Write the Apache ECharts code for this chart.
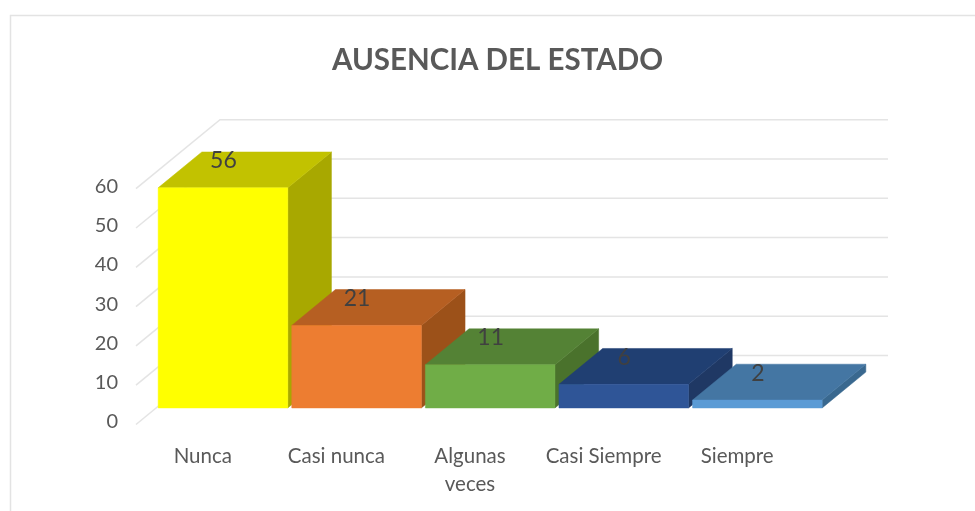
<!DOCTYPE html>
<html><head><meta charset="utf-8">
<style>html,body{margin:0;padding:0;background:#fff}#c{width:975px;height:511px}</style>
<script src="https://cdn.jsdelivr.net/npm/echarts@6/dist/echarts.min.js"></script>
</head><body><div id="c"></div>
<script>
const categories = ["Nunca", "Casi nunca", "Algunas\nveces", "Casi Siempre", "Siempre"];
const values = [56, 21, 11, 6, 2];
const yTicks = [0, 10, 20, 30, 40, 50, 60];
const frontColors = ["#FFFF00", "#ED7D31", "#70AD47", "#2F5597", "#5B9BD5"];
const topColors = ["#C2C200", "#B65F22", "#548235", "#203F72", "#4476A3"];
const sideColors = ["#A8A800", "#9C5119", "#4A722C", "#1F3864", "#39688F"];

const FONT = "Lato";
const DX = 84, DY = -69, T1 = 0.24, T2 = 0.76, BAR = 0.97;
const GRID = "#E4E4E4";

function renderWall(params, api) {
  const cs = params.coordSys;
  const y = api.coord([0, api.value(1)])[1];
  const style = { stroke: GRID, lineWidth: 1.5, fill: null };
  const x0 = cs.x, x1 = cs.x + DX, x2 = cs.x + cs.width + DX;
  return {
    type: "polyline",
    shape: { points: [[x0, y], [x1, y + DY], [x2, y + DY]] },
    style: style
  };
}

function renderBar(params, api) {
  const i = api.value(0), v = api.value(1);
  const band = api.size([1, 0])[0];
  const cx = api.coord([i, 0])[0];
  const base = api.coord([i, 0])[1];
  const top = api.coord([i, v])[1];
  const w = band * BAR;
  const l = cx - w / 2 + DX * T1;
  const r = l + w;
  const yB = base + DY * T1, yT = top + DY * T1;
  const ddx = DX * (T2 - T1), ddy = DY * (T2 - T1);
  const poly = (pts, fill) => ({ type: "polygon", shape: { points: pts },
    style: { fill: fill, stroke: fill, lineWidth: 0.5 } });
  return {
    type: "group",
    children: [
      poly([[r, yB], [r + ddx, yB + ddy], [r + ddx, yT + ddy], [r, yT]], sideColors[i]),
      poly([[l, yT], [r, yT], [r + ddx, yT + ddy], [l + ddx, yT + ddy]], topColors[i]),
      poly([[l, yB], [r, yB], [r, yT], [l, yT]], frontColors[i]),
      { type: "text", z2: 10, style: { text: String(v), x: (l + r) / 2 + 0.5, y: yT - 27,
        align: "center", verticalAlign: "middle", fill: "#404040",
        font: "23px " + FONT } }
    ]
  };
}

const chart = echarts.init(document.getElementById("c"), null, { renderer: "canvas" });
chart.setOption({
  animation: false,
  backgroundColor: "#fff",
  title: {
    text: "AUSENCIA DEL ESTADO", left: 492.5, top: 40, textAlign: "center",
    textStyle: { fontFamily: FONT, fontSize: 29.5, fontWeight: "bold", color: "#595959" }
  },
  grid: { left: 136, width: 668, top: 188.7, height: 235.8 },
  xAxis: {
    type: "category", data: categories,
    axisLine: { show: false }, axisTick: { show: false }, splitLine: { show: false },
    axisLabel: { interval: 0, margin: 18, fontFamily: FONT, fontSize: 20.5, lineHeight: 28, color: "#595959" }
  },
  yAxis: {
    type: "value", min: 0, max: 60, interval: 10,
    axisLine: { show: false }, axisTick: { show: false }, splitLine: { show: false },
    axisLabel: { margin: 18, fontFamily: FONT, fontSize: 20, color: "#595959", verticalAlign: "bottom", lineHeight: 5 }
  },
  series: [
    { type: "custom", silent: true, z: 1, renderItem: renderWall,
      data: yTicks.map(t => [0, t]), encode: { x: 0, y: 1 } },
    { type: "custom", silent: true, z: 2, renderItem: renderBar,
      data: values.map((v, i) => [i, v]), encode: { x: 0, y: 1 } }
  ],
  graphic: [{
    type: "polyline", silent: true,
    shape: { points: [[10.5, 530], [10.5, 15.5], [990, 15.5]] },
    style: { stroke: "#E3E3E3", lineWidth: 1.5, fill: null }
  }]
});
</script></body></html>
